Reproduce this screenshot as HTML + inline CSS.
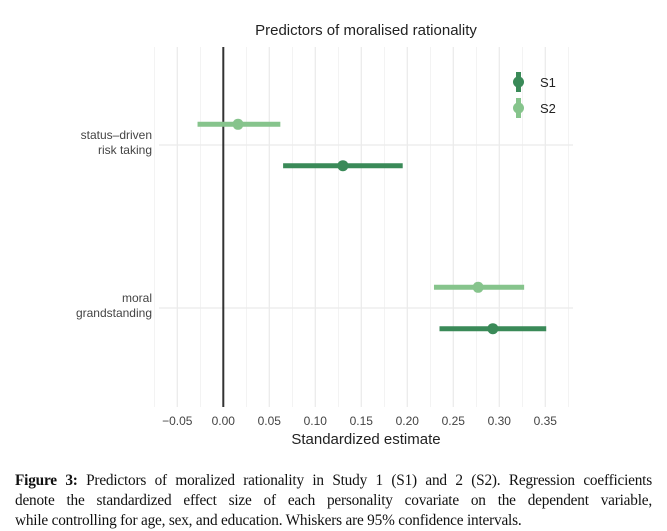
<!DOCTYPE html>
<html><head><meta charset="utf-8"><style>
body{margin:0;width:667px;height:528px;background:#fff;overflow:hidden;position:relative;font-family:"Liberation Sans",sans-serif}
.cap{position:absolute;left:15px;width:637px;font-family:"Liberation Serif",serif;font-size:15.3px;color:#111;white-space:nowrap}
.cap div{text-align:justify;text-align-last:justify;height:20px;line-height:20px;letter-spacing:-0.2px}
.cap div.last{text-align-last:left}
</style></head><body>
<svg id="chart" width="667" height="460" style="position:absolute;left:0;top:0" xmlns="http://www.w3.org/2000/svg">
<text x="366" y="35" text-anchor="middle" font-size="15" fill="#222">Predictors of moralised rationality</text>
<g id="grid"></g><g id="marks"></g>
<text x="366" y="444" text-anchor="middle" font-size="15" fill="#222">Standardized estimate</text>
<g>
<rect x="516" y="72" width="5" height="20" fill="#3a8a58"/><circle cx="518.5" cy="82" r="5.5" fill="#3a8a58"/>
<text x="540" y="87" font-size="13" fill="#222">S1</text>
<rect x="516" y="98" width="5" height="20" fill="#86c48c"/><circle cx="518.5" cy="108" r="5.5" fill="#86c48c"/>
<text x="540" y="113" font-size="13" fill="#222">S2</text>
</g>
</svg>
<div class="cap" style="top:471px">
<div><b style="font-weight:bold">Figure 3:</b> Predictors of moralized rationality in Study 1 (S1) and 2 (S2). Regression coefficients</div>
<div>denote the standardized effect size of each personality covariate on the dependent variable,</div>
<div class="last">while controlling for age, sex, and education. Whiskers are 95% confidence intervals.</div>
</div>
<script>
const categories=["status\u2013driven|risk taking","moral|grandstanding"];
const s1Est=[0.13,0.293];
const s1Lo=[0.065,0.235];
const s1Hi=[0.195,0.351];
const s2Est=[0.016,0.277];
const s2Lo=[-0.028,0.229];
const s2Hi=[0.062,0.327];
const ticks=[-0.05,0,0.05,0.1,0.15,0.2,0.25,0.3,0.35];
const tickLabels=["\u22120.05","0.00","0.05","0.10","0.15","0.20","0.25","0.30","0.35"];
const NS="http://www.w3.org/2000/svg";
const x=v=>223.3+v*920;
const catY=[145,308];
const grid=document.getElementById('grid'),marks=document.getElementById('marks');
function mk(tag,attrs,parent){const e=document.createElementNS(NS,tag);for(const k in attrs)e.setAttribute(k,attrs[k]);parent.appendChild(e);return e;}
for(let t=-0.075;t<=0.376;t+=0.025){
 const l=mk('line',{x1:x(t),x2:x(t),y1:47,y2:407,stroke:'#ebebeb','stroke-width':Math.abs((t/0.05)-Math.round(t/0.05))<0.01?1.3:0.6},grid);
 
 
}
ticks.forEach((t,i)=>{
 const tx=mk('text',{x:x(t),y:425,'text-anchor':'middle','font-size':'12',fill:'#444'},grid);
 tx.textContent=tickLabels[i];
 
 
});
categories.forEach((c,i)=>{
 const l=mk('line',{x1:159,x2:573,y1:catY[i],y2:catY[i],stroke:'#ebebeb','stroke-width':1.3},grid);
 
 
 const parts=c.split('|');
 parts.forEach((p,j)=>{
  const tx=mk('text',{x:152,y:catY[i]-6+j*15,'text-anchor':'end','font-size':'12',fill:'#444'},grid);
  tx.textContent=p;
  
  
 });
});
const z=mk('line',{x1:x(0),x2:x(0),y1:47,y2:407,stroke:'#333','stroke-width':2},grid);


function series(est,lo,hi,dy,col,name){
 est.forEach((v,i)=>{
  const y=catY[i]+dy;
  const l=mk('line',{x1:x(lo[i]),x2:x(hi[i]),y1:y,y2:y,stroke:col,'stroke-width':5},marks);
  
  
  const c=mk('circle',{cx:x(v),cy:y,r:5.5,fill:col},marks);
  
  
 });
}
series(s2Est,s2Lo,s2Hi,-20.7,'#86c48c','s2');
series(s1Est,s1Lo,s1Hi,20.7,'#3a8a58','s1');
</script>
</body></html>
